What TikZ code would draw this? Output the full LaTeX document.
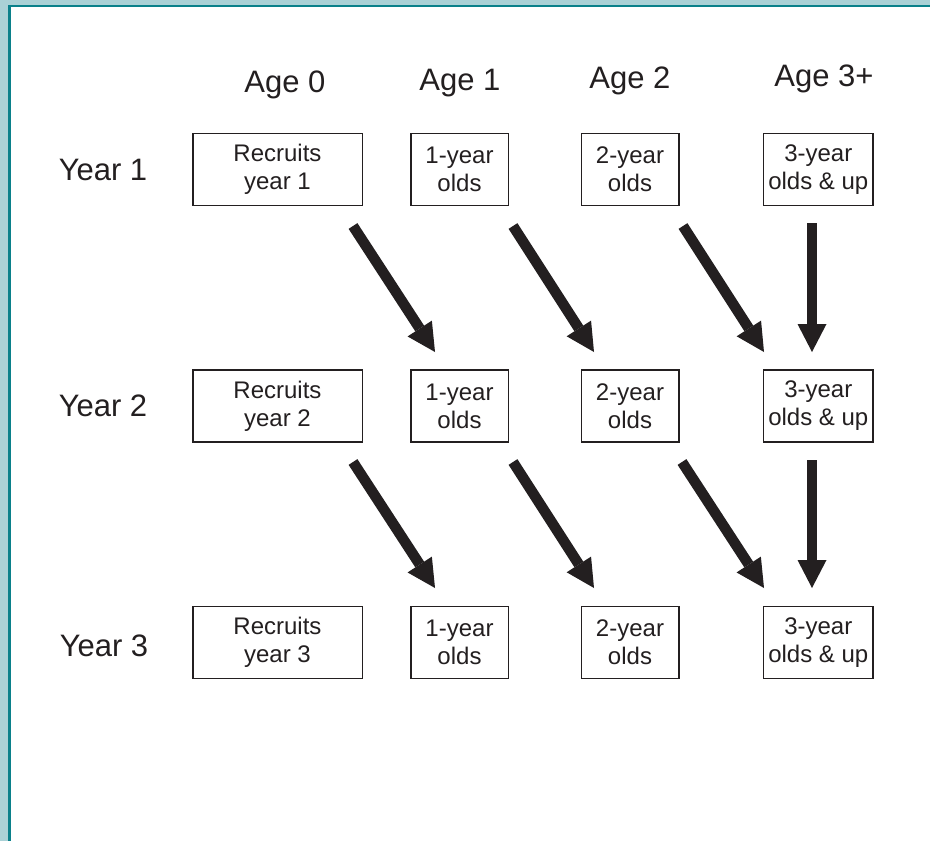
\documentclass[tikz,border=0pt]{standalone}
\usepackage{fontspec}
\setmainfont{Liberation Sans}
\usetikzlibrary{arrows.meta}
\definecolor{framelight}{RGB}{170,209,214}
\definecolor{framedark}{RGB}{10,128,138}
\definecolor{ink}{RGB}{35,31,32}
\tikzset{
  agebox/.style={draw=ink, line width=1.5pt, inner sep=0pt, align=center, text=ink,
    font=\fontsize{24}{28}\selectfont, minimum height=72pt},
  wide/.style={minimum width=169.5pt},
  narrow/.style={minimum width=97.5pt},
  mid/.style={minimum width=109.5pt},
  headlabel/.style={anchor=base, text=ink, font=\fontsize{31}{36}\selectfont, inner sep=0pt},
  flow/.style={draw=ink, line width=10.5pt,
    -{Triangle[length=28pt,width=29pt,line width=0pt]}}
}
\begin{document}
\begin{tikzpicture}[x=1pt,y=-1pt]
\useasboundingbox (0,0) rectangle (930,841);
\clip (0,0) rectangle (930,841);
% frame
\fill[framelight] (0,0) rectangle (930,841);
\filldraw[draw=framedark, fill=white, line width=2.8pt] (9.5,6) rectangle (950,870);

% column headers
\node[headlabel] (h0) at (285,92.7) {Age 0};
\node[headlabel] (h1) at (460,90.7) {Age 1};
\node[headlabel] (h2) at (630,88.3) {Age 2};
\node[headlabel] (h3) at (824,86.7) {Age 3+};

% row labels
\node[headlabel] (y1) at (103,180) {Year 1};
\node[headlabel] (y2) at (103,416) {Year 2};
\node[headlabel] (y3) at (104,656.7) {Year 3};

% boxes row 1
\node[agebox,wide]   (r1c0) at (277.5,169.5) {Recruits\\year 1};
\node[agebox,narrow] (r1c1) at (459.5,169.5) {1-year\\olds};
\node[agebox,narrow] (r1c2) at (630,169.5) {2-year\\olds};
\node[agebox,mid]    (r1c3) at (818.3,169.5) {3-year\\olds \& up};
% boxes row 2
\node[agebox,wide]   (r2c0) at (277.5,406) {Recruits\\year 2};
\node[agebox,narrow] (r2c1) at (459.5,406) {1-year\\olds};
\node[agebox,narrow] (r2c2) at (630,406) {2-year\\olds};
\node[agebox,mid]    (r2c3) at (818.3,406) {3-year\\olds \& up};
% boxes row 3
\node[agebox,wide]   (r3c0) at (277.5,642.5) {Recruits\\year 3};
\node[agebox,narrow] (r3c1) at (459.5,642.5) {1-year\\olds};
\node[agebox,narrow] (r3c2) at (630,642.5) {2-year\\olds};
\node[agebox,mid]    (r3c3) at (818.3,642.5) {3-year\\olds \& up};

% arrow end points
\coordinate (a1s) at (353,226); \coordinate (a1e) at (435,352);
\coordinate (b1s) at (513,226); \coordinate (b1e) at (594,352);
\coordinate (c1s) at (683,226); \coordinate (c1e) at (764,352);
\coordinate (d1s) at (812,223); \coordinate (d1e) at (812,352);
\coordinate (a2s) at (353,462); \coordinate (a2e) at (435,588);
\coordinate (b2s) at (513,462); \coordinate (b2e) at (594,588);
\coordinate (c2s) at (682,462); \coordinate (c2e) at (764,588);
\coordinate (d2s) at (812,460); \coordinate (d2e) at (812,588);

\draw[flow] (a1s) -- (a1e);
\draw[flow] (b1s) -- (b1e);
\draw[flow] (c1s) -- (c1e);
\draw[flow] (d1s) -- (d1e);
\draw[flow] (a2s) -- (a2e);
\draw[flow] (b2s) -- (b2e);
\draw[flow] (c2s) -- (c2e);
\draw[flow] (d2s) -- (d2e);
\end{tikzpicture}
\end{document}
